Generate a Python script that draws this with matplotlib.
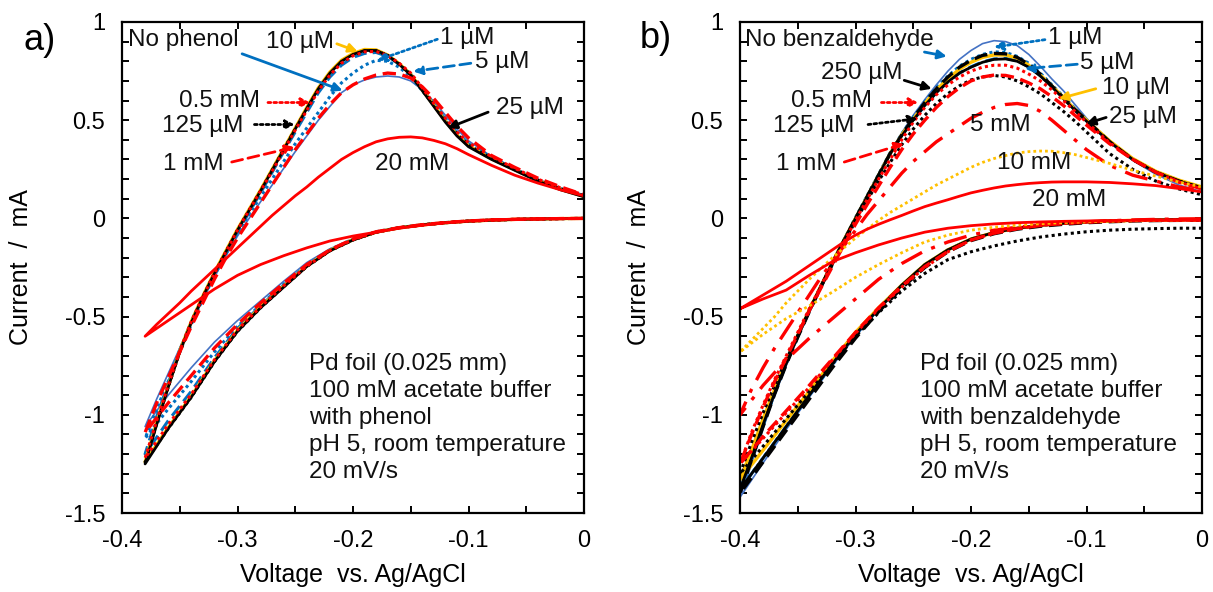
import numpy as np
import matplotlib
matplotlib.use('Agg')
import matplotlib.pyplot as plt
from matplotlib.ticker import MultipleLocator, FuncFormatter

plt.rcParams['font.family'] = ['Liberation Sans', 'DejaVu Sans']
plt.rcParams['axes.unicode_minus'] = False

# ---------------- panel a: phenol ----------------
va_up = [-0.38, -0.37, -0.36, -0.35, -0.34, -0.33, -0.32, -0.31, -0.30, -0.29,
         -0.28, -0.27, -0.26, -0.25, -0.24, -0.23, -0.22, -0.21, -0.20, -0.19,
         -0.18, -0.17, -0.16, -0.15, -0.14, -0.13, -0.12, -0.11, -0.10,
         -0.08, -0.06, -0.04, -0.02, 0.0]
va_dn = [-0.38, -0.36, -0.34, -0.32, -0.30, -0.28, -0.26, -0.24, -0.22, -0.20,
         -0.18, -0.16, -0.14, -0.12, -0.10, -0.08, -0.06, -0.04, -0.02, 0.0]

a_none_up = [-1.06, -0.92, -0.79, -0.66, -0.535, -0.415, -0.30, -0.19, -0.09, 0.00,
             0.085, 0.17, 0.255, 0.34, 0.42, 0.50, 0.57, 0.64, 0.68, 0.705,
             0.72, 0.725, 0.72, 0.70, 0.655, 0.595, 0.525, 0.455, 0.395,
             0.315, 0.255, 0.20, 0.155, 0.12]
a_none_dn = [-1.06, -0.90, -0.76, -0.63, -0.52, -0.42, -0.32, -0.225, -0.155, -0.103,
             -0.067, -0.046, -0.032, -0.021, -0.013, -0.008, -0.005, -0.003, -0.001, 0.0]

a_1uM_up = [-1.12, -0.97, -0.83, -0.68, -0.54, -0.41, -0.29, -0.18, -0.07, 0.02,
            0.11, 0.20, 0.29, 0.38, 0.46, 0.54, 0.62, 0.69, 0.74, 0.78,
            0.805, 0.80, 0.77, 0.72, 0.65, 0.58, 0.50, 0.43, 0.375,
            0.305, 0.25, 0.195, 0.15, 0.115]
a_1uM_dn = [-1.12, -0.97, -0.83, -0.68, -0.55, -0.44, -0.335, -0.24, -0.16, -0.105,
            -0.068, -0.047, -0.032, -0.021, -0.013, -0.008, -0.005, -0.003, -0.001, 0.0]

a_5uM_up = [-1.20, -1.01, -0.84, -0.67, -0.525, -0.40, -0.28, -0.175, -0.07, 0.03,
            0.13, 0.235, 0.34, 0.44, 0.54, 0.64, 0.72, 0.78, 0.82, 0.84,
            0.845, 0.825, 0.785, 0.735, 0.66, 0.58, 0.505, 0.435, 0.38,
            0.31, 0.25, 0.195, 0.15, 0.115]
a_5uM_dn = [-1.20, -1.03, -0.88, -0.71, -0.56, -0.445, -0.34, -0.24, -0.162, -0.108,
            -0.07, -0.048, -0.033, -0.022, -0.014, -0.009, -0.005, -0.003, -0.001, 0.0]

a_10uM_up = [-1.24, -1.04, -0.855, -0.675, -0.525, -0.395, -0.275, -0.165, -0.055, 0.045,
             0.145, 0.25, 0.355, 0.46, 0.565, 0.665, 0.745, 0.805, 0.84, 0.86,
             0.858, 0.832, 0.788, 0.732, 0.655, 0.575, 0.495, 0.425, 0.37,
             0.303, 0.248, 0.193, 0.148, 0.112]
a_10uM_dn = [-1.24, -1.065, -0.905, -0.725, -0.57, -0.45, -0.345, -0.242, -0.163, -0.108,
             -0.07, -0.048, -0.033, -0.022, -0.014, -0.009, -0.005, -0.003, -0.001, 0.0]

a_25uM_up = [-1.25, -1.05, -0.86, -0.68, -0.53, -0.40, -0.28, -0.17, -0.06, 0.04,
             0.14, 0.245, 0.35, 0.455, 0.56, 0.66, 0.74, 0.80, 0.835, 0.855,
             0.855, 0.83, 0.785, 0.73, 0.65, 0.57, 0.49, 0.42, 0.365,
             0.30, 0.245, 0.19, 0.145, 0.11]
a_25uM_dn = [-1.25, -1.07, -0.91, -0.73, -0.575, -0.455, -0.35, -0.245, -0.165, -0.11,
             -0.07, -0.048, -0.033, -0.022, -0.014, -0.009, -0.005, -0.003, -0.001, 0.0]

a_125uM_up = [-1.24, -1.045, -0.86, -0.68, -0.53, -0.40, -0.28, -0.17, -0.06, 0.04,
              0.14, 0.245, 0.35, 0.455, 0.555, 0.655, 0.735, 0.795, 0.832, 0.852,
              0.853, 0.83, 0.787, 0.733, 0.655, 0.575, 0.497, 0.43, 0.373,
              0.305, 0.25, 0.195, 0.15, 0.115]
a_125uM_dn = [-1.24, -1.07, -0.91, -0.73, -0.575, -0.455, -0.348, -0.245, -0.165, -0.11,
              -0.07, -0.048, -0.033, -0.022, -0.014, -0.009, -0.005, -0.003, -0.001, 0.0]

a_05mM_up = [-1.22, -1.03, -0.85, -0.675, -0.525, -0.40, -0.28, -0.17, -0.06, 0.04,
             0.14, 0.24, 0.345, 0.45, 0.55, 0.65, 0.73, 0.79, 0.828, 0.848,
             0.85, 0.83, 0.79, 0.74, 0.665, 0.585, 0.51, 0.44, 0.385,
             0.315, 0.255, 0.20, 0.155, 0.12]
a_05mM_dn = [-1.22, -1.05, -0.895, -0.72, -0.567, -0.45, -0.343, -0.243, -0.163, -0.108,
             -0.07, -0.048, -0.033, -0.022, -0.014, -0.009, -0.005, -0.003, -0.001, 0.0]

a_1mM_up = [-1.09, -0.94, -0.81, -0.68, -0.55, -0.43, -0.31, -0.20, -0.10, -0.01,
            0.08, 0.17, 0.26, 0.35, 0.43, 0.51, 0.58, 0.64, 0.68, 0.71,
            0.73, 0.74, 0.735, 0.715, 0.67, 0.61, 0.54, 0.47, 0.41,
            0.32, 0.26, 0.205, 0.16, 0.12]
a_1mM_dn = [-1.09, -0.94, -0.80, -0.66, -0.54, -0.43, -0.33, -0.235, -0.16, -0.105,
            -0.068, -0.047, -0.032, -0.021, -0.013, -0.008, -0.005, -0.003, -0.001, 0.0]

a_20mM_up = [-0.60, -0.54, -0.485, -0.43, -0.37, -0.315, -0.26, -0.205, -0.15, -0.095,
             -0.04, 0.015, 0.065, 0.115, 0.16, 0.21, 0.255, 0.30, 0.335, 0.365,
             0.39, 0.405, 0.413, 0.415, 0.41, 0.397, 0.38, 0.355, 0.325,
             0.27, 0.22, 0.18, 0.145, 0.115]
a_20mM_dn = [-0.60, -0.52, -0.44, -0.36, -0.29, -0.235, -0.19, -0.15, -0.115, -0.09,
             -0.07, -0.05, -0.035, -0.022, -0.013, -0.007, -0.004, -0.002, -0.001, 0.0]

# ---------------- panel b: benzaldehyde ----------------
vb_up = [-0.40, -0.39, -0.38, -0.37, -0.36, -0.35, -0.34, -0.33, -0.32, -0.31,
         -0.30, -0.29, -0.28, -0.27, -0.26, -0.25, -0.24, -0.23, -0.22, -0.21,
         -0.20, -0.19, -0.18, -0.17, -0.16, -0.15, -0.14, -0.13, -0.12, -0.11,
         -0.10, -0.08, -0.06, -0.04, -0.02, 0.0]
vb_dn = [-0.40, -0.38, -0.36, -0.34, -0.32, -0.30, -0.28, -0.26, -0.24, -0.22,
         -0.20, -0.18, -0.16, -0.14, -0.12, -0.10, -0.08, -0.06, -0.04, -0.02, 0.0]

b_none_up = [-1.42, -1.25, -1.07, -0.90, -0.75, -0.61, -0.48, -0.355, -0.235, -0.12,
             -0.005, 0.11, 0.225, 0.335, 0.435, 0.525, 0.605, 0.68, 0.75, 0.81,
             0.855, 0.89, 0.905, 0.90, 0.88, 0.835, 0.775, 0.71, 0.65, 0.58,
             0.51, 0.39, 0.295, 0.225, 0.17, 0.135]
b_none_dn = [-1.42, -1.245, -1.075, -0.91, -0.75, -0.60, -0.465, -0.345, -0.24, -0.163,
             -0.108, -0.074, -0.052, -0.037, -0.027, -0.02, -0.015, -0.012, -0.01, -0.008, -0.007]

b_1uM_up = [-1.38, -1.22, -1.05, -0.89, -0.74, -0.60, -0.47, -0.345, -0.225, -0.11,
            0.005, 0.115, 0.225, 0.335, 0.43, 0.515, 0.595, 0.665, 0.725, 0.775,
            0.81, 0.835, 0.848, 0.845, 0.825, 0.79, 0.74, 0.68, 0.62, 0.56,
            0.50, 0.39, 0.30, 0.235, 0.19, 0.155]
b_1uM_dn = [-1.38, -1.22, -1.06, -0.90, -0.745, -0.595, -0.462, -0.343, -0.238, -0.162,
            -0.107, -0.073, -0.051, -0.036, -0.026, -0.019, -0.014, -0.011, -0.009, -0.007, -0.006]

b_5uM_up = [-1.38, -1.22, -1.05, -0.89, -0.74, -0.60, -0.47, -0.345, -0.225, -0.11,
            0.00, 0.11, 0.22, 0.33, 0.42, 0.50, 0.575, 0.64, 0.695, 0.74,
            0.772, 0.797, 0.812, 0.815, 0.802, 0.772, 0.728, 0.672, 0.612, 0.552,
            0.497, 0.392, 0.302, 0.237, 0.192, 0.157]
b_5uM_dn = [-1.38, -1.22, -1.06, -0.90, -0.742, -0.592, -0.46, -0.34, -0.236, -0.16,
            -0.105, -0.072, -0.05, -0.035, -0.025, -0.018, -0.013, -0.01, -0.008, -0.006, -0.005]

b_10uM_up = [-1.33, -1.18, -1.02, -0.87, -0.73, -0.595, -0.465, -0.345, -0.225, -0.11,
             0.00, 0.11, 0.22, 0.33, 0.425, 0.505, 0.585, 0.655, 0.71, 0.76,
             0.795, 0.82, 0.832, 0.832, 0.815, 0.78, 0.73, 0.675, 0.615, 0.555,
             0.50, 0.395, 0.305, 0.24, 0.195, 0.16]
b_10uM_dn = [-1.33, -1.18, -1.03, -0.88, -0.725, -0.58, -0.455, -0.34, -0.235, -0.16,
             -0.105, -0.072, -0.05, -0.035, -0.025, -0.018, -0.013, -0.01, -0.008, -0.006, -0.005]

b_25uM_up = [-1.38, -1.22, -1.05, -0.89, -0.74, -0.60, -0.47, -0.345, -0.225, -0.11,
             0.00, 0.11, 0.22, 0.33, 0.42, 0.50, 0.575, 0.64, 0.695, 0.74,
             0.77, 0.795, 0.81, 0.812, 0.80, 0.77, 0.725, 0.67, 0.61, 0.55,
             0.495, 0.39, 0.30, 0.235, 0.19, 0.155]
b_25uM_dn = [-1.38, -1.22, -1.06, -0.90, -0.74, -0.59, -0.46, -0.34, -0.235, -0.16,
             -0.105, -0.072, -0.05, -0.035, -0.025, -0.018, -0.013, -0.01, -0.008, -0.006, -0.005]

b_125uM_up = [-1.30, -1.14, -0.99, -0.85, -0.72, -0.595, -0.47, -0.35, -0.235, -0.12,
              -0.015, 0.09, 0.19, 0.285, 0.375, 0.455, 0.525, 0.585, 0.635, 0.675,
              0.705, 0.72, 0.728, 0.72, 0.70, 0.67, 0.635, 0.59, 0.545, 0.495,
              0.44, 0.33, 0.25, 0.19, 0.15, 0.12]
b_125uM_dn = [-1.30, -1.16, -1.02, -0.88, -0.74, -0.60, -0.48, -0.37, -0.28, -0.21,
              -0.17, -0.14, -0.115, -0.095, -0.08, -0.068, -0.06, -0.055, -0.052, -0.05, -0.05]

b_250uM_up = [-1.40, -1.23, -1.06, -0.895, -0.745, -0.605, -0.475, -0.35, -0.23, -0.115,
              0.00, 0.11, 0.22, 0.33, 0.425, 0.51, 0.59, 0.66, 0.72, 0.77,
              0.805, 0.83, 0.84, 0.838, 0.82, 0.785, 0.735, 0.675, 0.615, 0.555,
              0.50, 0.39, 0.30, 0.235, 0.19, 0.155]
b_250uM_dn = [-1.40, -1.24, -1.08, -0.92, -0.76, -0.61, -0.475, -0.355, -0.25, -0.17,
              -0.113, -0.078, -0.055, -0.04, -0.03, -0.022, -0.017, -0.013, -0.011, -0.01, -0.009]

b_05mM_up = [-1.25, -1.09, -0.95, -0.82, -0.70, -0.58, -0.46, -0.345, -0.23, -0.12,
             -0.01, 0.095, 0.20, 0.30, 0.40, 0.49, 0.565, 0.63, 0.68, 0.72,
             0.75, 0.77, 0.78, 0.78, 0.765, 0.735, 0.70, 0.655, 0.60, 0.545,
             0.49, 0.385, 0.30, 0.235, 0.185, 0.15]
b_05mM_dn = [-1.25, -1.12, -0.99, -0.86, -0.72, -0.585, -0.46, -0.35, -0.25, -0.17,
             -0.11, -0.075, -0.052, -0.036, -0.026, -0.019, -0.014, -0.011, -0.009, -0.008, -0.007]

b_1mM_up = [-1.25, -1.10, -0.96, -0.83, -0.71, -0.59, -0.47, -0.355, -0.245, -0.135,
            -0.03, 0.07, 0.165, 0.26, 0.35, 0.43, 0.50, 0.565, 0.62, 0.665,
            0.70, 0.72, 0.73, 0.728, 0.715, 0.69, 0.66, 0.62, 0.575, 0.525,
            0.475, 0.38, 0.30, 0.235, 0.185, 0.15]
b_1mM_dn = [-1.25, -1.11, -0.98, -0.85, -0.715, -0.58, -0.455, -0.345, -0.245, -0.168,
            -0.11, -0.075, -0.052, -0.036, -0.026, -0.019, -0.014, -0.011, -0.009, -0.008, -0.007]

b_5mM_up = [-1.00, -0.87, -0.76, -0.66, -0.57, -0.48, -0.39, -0.30, -0.22, -0.14,
            -0.06, 0.02, 0.09, 0.16, 0.23, 0.29, 0.34, 0.39, 0.43, 0.47,
            0.51, 0.54, 0.565, 0.58, 0.585, 0.575, 0.545, 0.50, 0.45, 0.40,
            0.35, 0.27, 0.22, 0.19, 0.16, 0.14]
b_5mM_dn = [-1.00, -0.85, -0.72, -0.61, -0.51, -0.41, -0.31, -0.23, -0.165, -0.12,
            -0.085, -0.06, -0.045, -0.033, -0.024, -0.017, -0.012, -0.008, -0.005, -0.003, -0.002]

b_10mM_up = [-0.68, -0.62, -0.56, -0.50, -0.43, -0.37, -0.31, -0.255, -0.20, -0.15,
             -0.10, -0.055, -0.01, 0.03, 0.065, 0.10, 0.135, 0.17, 0.20, 0.23,
             0.26, 0.285, 0.305, 0.32, 0.333, 0.34, 0.343, 0.342, 0.335, 0.325,
             0.31, 0.28, 0.245, 0.215, 0.185, 0.16]
b_10mM_dn = [-0.68, -0.59, -0.51, -0.445, -0.375, -0.30, -0.235, -0.175, -0.12, -0.085,
             -0.06, -0.045, -0.035, -0.027, -0.021, -0.017, -0.014, -0.012, -0.011, -0.01, -0.01]

b_20mM_up = [-0.46, -0.425, -0.39, -0.355, -0.32, -0.28, -0.24, -0.20, -0.16, -0.12,
             -0.085, -0.055, -0.03, -0.007, 0.015, 0.038, 0.06, 0.078, 0.095, 0.113,
             0.13, 0.143, 0.155, 0.165, 0.172, 0.178, 0.182, 0.185, 0.186, 0.186,
             0.186, 0.183, 0.176, 0.167, 0.152, 0.135]
b_20mM_dn = [-0.46, -0.41, -0.365, -0.29, -0.22, -0.175, -0.135, -0.10, -0.07, -0.05,
             -0.037, -0.028, -0.022, -0.018, -0.015, -0.013, -0.011, -0.01, -0.01, -0.01, -0.01]

BLUE_L = '#4472C4'
BLUE = '#0070C0'
YELLOW = '#FFC000'
RED = '#FF0000'
BLACK = '#000000'
DOT = (0, (1, 1.1))
DASH = (0, (4, 2))
DASHDOT = (0, (7, 3, 1.2, 3))

# (up, down, colour, linestyle, linewidth) in drawing order
series_a = [
    (a_none_up, a_none_dn, BLUE_L, '-', 1.2),
    (a_1uM_up, a_1uM_dn, BLUE, DOT, 2.2),
    (a_5uM_up, a_5uM_dn, BLUE, DASH, 2.2),
    (a_10uM_up, a_10uM_dn, YELLOW, '-', 2.4),
    (a_25uM_up, a_25uM_dn, BLACK, '-', 2.0),
    (a_125uM_up, a_125uM_dn, BLACK, DOT, 2.2),
    (a_05mM_up, a_05mM_dn, RED, DOT, 2.2),
    (a_1mM_up, a_1mM_dn, RED, DASH, 2.4),
    (a_20mM_up, a_20mM_dn, RED, '-', 2.0),
]
series_b = [
    (b_none_up, b_none_dn, BLUE_L, '-', 1.2),
    (b_1uM_up, b_1uM_dn, BLUE, DOT, 2.2),
    (b_5uM_up, b_5uM_dn, BLUE, DASH, 2.2),
    (b_10uM_up, b_10uM_dn, YELLOW, '-', 2.4),
    (b_25uM_up, b_25uM_dn, BLACK, '-', 2.0),
    (b_125uM_up, b_125uM_dn, BLACK, DOT, 2.2),
    (b_250uM_up, b_250uM_dn, BLACK, DASH, 2.4),
    (b_05mM_up, b_05mM_dn, RED, DOT, 2.2),
    (b_1mM_up, b_1mM_dn, RED, DASH, 2.4),
    (b_5mM_up, b_5mM_dn, RED, DASHDOT, 2.4),
    (b_10mM_up, b_10mM_dn, YELLOW, DOT, 2.0),
    (b_20mM_up, b_20mM_dn, RED, '-', 2.0),
]

# label text, text position, ha, arrow start, arrow tip, colour, linestyle
labels_a = [
    ('No phenol', (-0.395, 0.906), 'left', (-0.296, 0.838), (-0.209, 0.651), BLUE, '-'),
    ('10 µM', (-0.2463, 0.898), 'center', (-0.214, 0.889), (-0.196, 0.850), YELLOW, '-'),
    ('1 µM', (-0.1247, 0.916), 'left', (-0.127, 0.912), (-0.179, 0.805), BLUE, DOT),
    ('5 µM', (-0.0947, 0.794), 'left', (-0.098, 0.790), (-0.1478, 0.748), BLUE, DASH),
    ('25 µM', (-0.0766, 0.560), 'left', (-0.083, 0.541), (-0.118, 0.460), BLACK, '-'),
    ('0.5 mM', (-0.2805, 0.598), 'right', (-0.2736, 0.590), (-0.237, 0.590), RED, DOT),
    ('125 µM', (-0.295, 0.472), 'right', (-0.2853, 0.478), (-0.2505, 0.478), BLACK, DOT),
    ('1 mM', (-0.312, 0.275), 'right', (-0.305, 0.287), (-0.2505, 0.363), RED, DASH),
    ('20 mM', (-0.1485, 0.278), 'center', None, None, None, None),
]
labels_b = [
    ('No benzaldehyde', (-0.396, 0.906), 'left', (-0.2403, 0.847), (-0.221, 0.825), BLUE, '-'),
    ('1 µM', (-0.1335, 0.916), 'left', (-0.136, 0.910), (-0.180, 0.872), BLUE, DOT),
    ('5 µM', (-0.1053, 0.790), 'left', (-0.108, 0.785), (-0.1534, 0.762), BLUE, DASH),
    ('10 µM', (-0.0866, 0.662), 'left', (-0.092, 0.660), (-0.124, 0.609), YELLOW, '-'),
    ('25 µM', (-0.0805, 0.514), 'left', (-0.083, 0.514), (-0.1004, 0.482), BLACK, '-'),
    ('250 µM', (-0.2595, 0.738), 'right', (-0.2578, 0.703), (-0.234, 0.660), BLACK, '-'),
    ('0.5 mM', (-0.286, 0.598), 'right', (-0.2775, 0.590), (-0.2456, 0.590), RED, DOT),
    ('125 µM', (-0.3009, 0.472), 'right', (-0.2891, 0.478), (-0.2462, 0.508), BLACK, DOT),
    ('1 mM', (-0.316, 0.275), 'right', (-0.3097, 0.287), (-0.258, 0.380), RED, DASH),
    ('5 mM', (-0.175, 0.474), 'center', None, None, None, None),
    ('10 mM', (-0.1451, 0.280), 'center', None, None, None, None),
    ('20 mM', (-0.115, 0.095), 'center', None, None, None, None),
]

info_a = ['Pd foil (0.025 mm)', '100 mM acetate buffer', 'with phenol',
          'pH 5, room temperature', '20 mV/s']
info_b = ['Pd foil (0.025 mm)', '100 mM acetate buffer', 'with benzaldehyde',
          'pH 5, room temperature', '20 mV/s']
info_y = [-0.740, -0.878, -1.016, -1.154, -1.292]

FS = 17.5


def draw_panel(ax, v_up, v_dn, series, labels, info, info_x, tag, tag_pos):
    for up, dn, c, ls, lw in series:
        x = list(v_dn[::-1]) + list(v_up)
        y = list(dn[::-1]) + list(up)
        ax.plot(x, y, color=c, linestyle=ls, linewidth=lw,
                dash_capstyle='butt', solid_capstyle='round')

    for text, pos, ha, start, tip, c, ls in labels:
        ax.text(pos[0], pos[1], text, ha=ha, va='center', fontsize=FS, color='#111111')
        if start is not None:
            ax.annotate('', xy=tip, xytext=start,
                        arrowprops=dict(arrowstyle='-|>', color=c, lw=2.0,
                                        linestyle=ls, mutation_scale=13,
                                        shrinkA=0, shrinkB=0))

    for line, y in zip(info, info_y):
        ax.text(info_x, y, line, ha='left', va='center', fontsize=FS, color='#111111')

    ax.set_xlim(-0.4, 0)
    ax.set_ylim(-1.5, 1)
    ax.xaxis.set_major_locator(MultipleLocator(0.1))
    ax.xaxis.set_minor_locator(MultipleLocator(0.05))
    ax.yaxis.set_major_locator(MultipleLocator(0.5))
    ax.yaxis.set_minor_locator(MultipleLocator(0.1))
    fmt = FuncFormatter(lambda v, p: '%g' % round(v, 2))
    ax.xaxis.set_major_formatter(fmt)
    ax.yaxis.set_major_formatter(fmt)
    ax.tick_params(which='both', direction='in', top=True, right=True,
                   length=5, width=1.4, labelsize=17)
    ax.tick_params(axis='x', pad=12)
    ax.tick_params(axis='y', pad=12)
    for s in ax.spines.values():
        s.set_linewidth(1.6)

    ax.text(0.5, -0.126, 'Voltage  vs. Ag/AgCl', transform=ax.transAxes,
            ha='center', va='center', fontsize=18)
    ax.text(-0.218, 0.5, 'Current  /  mA', transform=ax.transAxes, rotation=90,
            ha='center', va='center', fontsize=18)
    ax.figure.text(tag_pos[0], tag_pos[1], tag, ha='center', va='center', fontsize=26)


fig = plt.figure(figsize=(12.13, 5.92), dpi=100)
ax_a = fig.add_axes([122 / 1213, 79 / 592, 462 / 1213, 491 / 592])
ax_b = fig.add_axes([740 / 1213, 79 / 592, 462 / 1213, 491 / 592])

draw_panel(ax_a, va_up, va_dn, series_a, labels_a, info_a, -0.238, 'a)', (40 / 1213, 1 - 40 / 592))
draw_panel(ax_b, vb_up, vb_dn, series_b, labels_b, info_b, -0.244, 'b)', (656 / 1213, 1 - 38 / 592))

fig.savefig('out.png', dpi=100)
